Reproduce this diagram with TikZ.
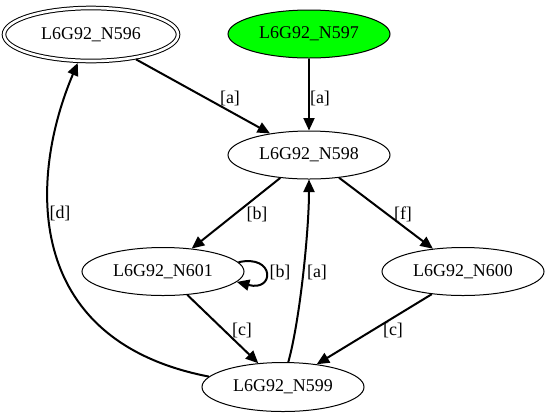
\documentclass[tikz,border=0pt]{standalone}
\usepackage{fontspec}
\setmainfont{Liberation Serif}
\usetikzlibrary{shapes.geometric,arrows.meta}
\definecolor{nodegreen}{HTML}{00FF00}
\tikzset{
  gnode/.style={ellipse, draw, line width=1bp, minimum width=162bp, minimum height=48bp,
    inner sep=0pt, font=\fontsize{18}{20}\selectfont},
  dblnode/.style={gnode, double, double distance=2.6bp, minimum width=174bp, minimum height=53bp, outer sep=2.3bp},
  edge/.style={line width=2bp, -{Triangle[length=12.5bp,width=11bp]}},
  lbl/.style={inner sep=0pt, font=\fontsize{18}{20}\selectfont},
}
\begin{document}
\begin{tikzpicture}[x=1bp,y=-1bp]
\useasboundingbox (0,0) rectangle (549,417);
\node[dblnode] (n596) at (91,34.5) {L6G92\_N596};
\node[gnode, fill=nodegreen] (n597) at (309,34) {L6G92\_N597};
\node[gnode] (n598) at (309,155) {L6G92\_N598};
\node[gnode] (n601) at (163,271.5) {L6G92\_N601};
\node[gnode] (n600) at (463,271.5) {L6G92\_N600};
\node[gnode, minimum height=49bp] (n599) at (283,387) {L6G92\_N599};

\draw[edge] (n596) -- (n598);
\draw[edge] (n597) -- (n598);
\draw[edge] (n598) -- (n601);
\draw[edge] (n598) -- (n600);
\draw[edge] (n601.7) .. controls (275,254) and (275,292) .. (n601.-8);
\draw[edge] (n599.78) .. controls (300,320) and (309,230) .. (n598.south);
\draw[edge] (n601) -- (n599);
\draw[edge] (n600.216) -- (n599.34);
\draw[edge] (n599.172) .. controls (20,340) and (30,175) .. (n596.245);

\node[lbl] (la1) at (230,98) {[a]};
\node[lbl] (la2) at (320,98) {[a]};
\node[lbl] (lb1) at (257,214) {[b]};
\node[lbl] (lf) at (403,214) {[f]};
\node[lbl] (lb2) at (280,272) {[b]};
\node[lbl] (la3) at (317,272) {[a]};
\node[lbl] (lc1) at (242,330) {[c]};
\node[lbl] (lc2) at (393,330) {[c]};
\node[lbl] (ld) at (60,213) {[d]};
\end{tikzpicture}
\end{document}
